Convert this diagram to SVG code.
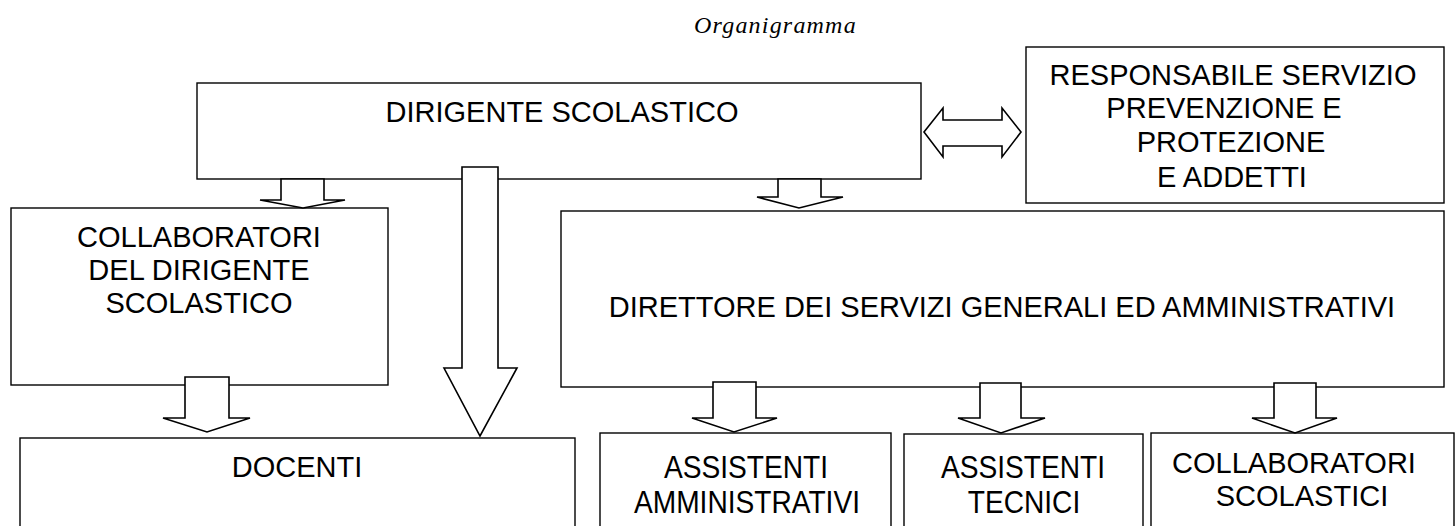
<svg xmlns="http://www.w3.org/2000/svg" width="1455" height="526" viewBox="0 0 1455 526">
<style>
.box{fill:#fff;stroke:#000;stroke-width:1.4}
.arr{fill:#fff;stroke:#000;stroke-width:1.6;stroke-linejoin:miter}
.t{font-family:"Liberation Sans",Arial,sans-serif;font-size:29px;fill:#000;text-anchor:middle}
.title{font-family:"Liberation Serif","Times New Roman",serif;font-style:italic;font-size:24px;letter-spacing:1.2px;fill:#000}
</style>
<rect width="1455" height="526" fill="#fff"/>
<text class="title" x="694" y="33">Organigramma</text>

<g id="dirigente">
<rect class="box" x="197" y="83" width="724" height="96"/>
<text class="t" x="562" y="122">DIRIGENTE SCOLASTICO</text>
</g>
<g id="rspp">
<rect class="box" x="1026" y="47" width="418" height="156"/>
<text class="t" x="1233" y="85">RESPONSABILE SERVIZIO</text>
<text class="t" x="1224" y="118">PREVENZIONE E</text>
<text class="t" x="1231" y="152">PROTEZIONE</text>
<text class="t" x="1232" y="187">E ADDETTI</text>
</g>
<g id="collaboratori-ds">
<rect class="box" x="11" y="208" width="377" height="177"/>
<text class="t" x="199" y="247">COLLABORATORI</text>
<text class="t" x="199" y="280">DEL DIRIGENTE</text>
<text class="t" x="199" y="313">SCOLASTICO</text>
</g>
<g id="dsga">
<rect class="box" x="561" y="211" width="883" height="176"/>
<text class="t" x="1002" y="317">DIRETTORE DEI SERVIZI GENERALI ED AMMINISTRATIVI</text>
</g>
<g id="docenti">
<rect class="box" x="20" y="438" width="555" height="110"/>
<text class="t" x="297" y="477">DOCENTI</text>
</g>
<g id="assistenti-amm">
<rect class="box" x="600" y="433" width="291" height="115"/>
<text class="t" transform="translate(746 478) scale(0.97 1.05)">ASSISTENTI</text>
<text class="t" transform="translate(747 513) scale(0.97 1.05)">AMMINISTRATIVI</text>
</g>
<g id="assistenti-tec">
<rect class="box" x="904" y="434" width="239" height="115"/>
<text class="t" transform="translate(1023 478) scale(0.97 1.05)">ASSISTENTI</text>
<text class="t" transform="translate(1024 513) scale(0.97 1.05)">TECNICI</text>
</g>
<g id="collaboratori-scol">
<rect class="box" x="1151" y="433" width="303" height="115"/>
<text class="t" x="1294" y="473">COLLABORATORI</text>
<text class="t" x="1302" y="506">SCOLASTICI</text>
</g>

<g id="connectors">
<path class="arr" d="M281 179 L324 179 L324 200 L345 200 L303 208 L260 200 L281 200 Z"/>
<path class="arr" d="M462 167 L498 167 L498 368 L517 368 L480 436 L444 368 L462 368 Z"/>
<path class="arr" d="M185 377 L229 377 L229 418 L250 418 L207 432 L163 418 L185 418 Z"/>
<path class="arr" d="M778 179 L821 179 L821 197 L843 197 L799 208 L757 197 L778 197 Z"/>
<path class="arr" d="M924 132 L943 108 L943 120 L1002 120 L1002 108 L1021 132 L1002 157 L1002 146 L943 146 L943 157 Z"/>
<path class="arr" d="M713 382 L756 382 L756 418 L777 418 L734 432 L692 418 L713 418 Z"/>
<path class="arr" d="M980 383 L1021 383 L1021 418 L1045 418 L1001 433 L958 418 L980 418 Z"/>
<path class="arr" d="M1274 383 L1316 383 L1316 418 L1337 418 L1295 433 L1252 418 L1274 418 Z"/>
</g>
</svg>
